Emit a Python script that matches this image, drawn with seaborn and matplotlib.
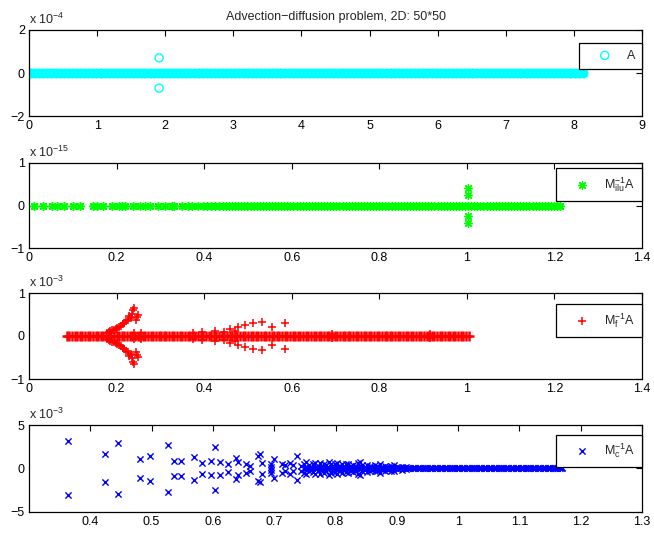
import numpy as np
import pandas as pd
import matplotlib
matplotlib.use("Agg")
import matplotlib.pyplot as plt
import seaborn as sns
from matplotlib.ticker import FuncFormatter

# ---- eigenvalues (imag parts in the unit shown on each axis) ----
# A  (x 10^-4)
a_band = [0.03, 0.09, 0.15, 0.21, 0.27, 0.33, 0.39, 0.45, 0.51, 0.57, 0.63, 0.69, 0.75,
          0.81, 0.87, 0.93, 0.99,
          1.05, 1.11, 1.17, 1.23, 1.29, 1.35, 1.41, 1.47, 1.53, 1.59, 1.65, 1.71, 1.77,
          1.83, 1.89, 1.95,
          2.01, 2.07, 2.13, 2.19, 2.25, 2.31, 2.37, 2.43, 2.49, 2.55, 2.61, 2.67, 2.73,
          2.79, 2.85, 2.91, 2.97,
          3.03, 3.09, 3.15, 3.21, 3.27, 3.33, 3.39, 3.45, 3.51, 3.57, 3.63, 3.69, 3.75,
          3.81, 3.87, 3.93, 3.99,
          4.05, 4.11, 4.17, 4.23, 4.29, 4.35, 4.41, 4.47, 4.53, 4.59, 4.65, 4.71, 4.77,
          4.83, 4.89, 4.95,
          5.01, 5.07, 5.13, 5.19, 5.25, 5.31, 5.37, 5.43, 5.49, 5.55, 5.61, 5.67, 5.73,
          5.79, 5.85, 5.91, 5.97,
          6.03, 6.09, 6.15, 6.21, 6.27, 6.33, 6.39, 6.45, 6.51, 6.57, 6.63, 6.69, 6.75,
          6.81, 6.87, 6.93, 6.99,
          7.05, 7.11, 7.17, 7.23, 7.29, 7.35, 7.41, 7.47, 7.53, 7.59, 7.65, 7.71, 7.77,
          7.83, 7.89, 7.95,
          8.01, 8.07, 8.13]
a_pair_re = [1.91]
a_pair_im = [0.70]

# M_ilu^-1 A  (x 10^-15)
ilu_band = [0.012, 0.033, 0.052, 0.063, 0.081, 0.101, 0.116, 0.147, 0.156, 0.170, 0.190,
            0.205, 0.212, 0.219, 0.238, 0.253, 0.265, 0.276, 0.295, 0.310, 0.326, 0.332,
            0.349, 0.362, 0.372, 0.387, 0.397, 0.406, 0.416, 0.425, 0.435, 0.444,
            0.450, 0.457, 0.464, 0.471, 0.478, 0.485, 0.492, 0.499, 0.506, 0.513, 0.520,
            0.527, 0.534, 0.541, 0.548, 0.555, 0.562, 0.569, 0.576, 0.583, 0.590, 0.597,
            0.604, 0.611, 0.618, 0.625, 0.632, 0.639, 0.646, 0.653, 0.660, 0.667, 0.674,
            0.681, 0.688, 0.695, 0.702, 0.709, 0.716, 0.723, 0.730, 0.737, 0.744, 0.751,
            0.758, 0.765, 0.772, 0.779, 0.786, 0.793, 0.800, 0.807, 0.814, 0.821, 0.828,
            0.835, 0.842, 0.849, 0.856, 0.863, 0.870, 0.877, 0.884, 0.891, 0.898, 0.905,
            0.912, 0.919, 0.926, 0.933, 0.940, 0.947, 0.954, 0.961, 0.968, 0.975, 0.982,
            0.989, 0.996, 1.003, 1.010, 1.017, 1.024, 1.031, 1.038, 1.045, 1.052, 1.059,
            1.066, 1.073, 1.080, 1.087, 1.094, 1.101, 1.108, 1.115, 1.122, 1.129, 1.136,
            1.143, 1.150, 1.157, 1.164, 1.171, 1.178, 1.185, 1.192, 1.199, 1.206, 1.212]
ilu_pair_re = [1.003, 1.003]
ilu_pair_im = [0.24, 0.42]

# M_f^-1 A  (x 10^-3)
f_band = [0.086, 0.092, 0.098, 0.104, 0.110, 0.116, 0.122, 0.128, 0.134, 0.140, 0.146,
          0.152, 0.158, 0.164, 0.170, 0.176, 0.182, 0.188, 0.194, 0.200, 0.206, 0.212,
          0.218, 0.224, 0.230, 0.236, 0.242, 0.248, 0.254, 0.260, 0.266, 0.272, 0.278,
          0.284, 0.290, 0.296, 0.302, 0.308, 0.314, 0.320, 0.326, 0.332, 0.338, 0.344,
          0.350, 0.356, 0.362, 0.368, 0.374, 0.380, 0.386, 0.392, 0.398, 0.404, 0.410,
          0.416, 0.422, 0.428, 0.434, 0.440, 0.446, 0.452, 0.458, 0.464, 0.470, 0.476,
          0.482, 0.488, 0.494, 0.500, 0.506, 0.512, 0.518, 0.524, 0.530, 0.536, 0.542,
          0.548, 0.554, 0.560, 0.566, 0.572, 0.578, 0.584, 0.590, 0.596, 0.602, 0.608,
          0.614, 0.620, 0.626, 0.632, 0.638, 0.644, 0.650, 0.656, 0.662, 0.668, 0.674,
          0.680, 0.686, 0.692, 0.698, 0.704, 0.710, 0.716, 0.722, 0.728, 0.734, 0.740,
          0.746, 0.752, 0.758, 0.764, 0.770, 0.776, 0.782, 0.788, 0.794, 0.800, 0.806,
          0.812, 0.818, 0.824, 0.830, 0.836, 0.842, 0.848, 0.854, 0.860, 0.866, 0.872,
          0.878, 0.884, 0.890, 0.896, 0.902, 0.908, 0.914, 0.920, 0.926, 0.932, 0.938,
          0.944, 0.950, 0.956, 0.962, 0.968, 0.974, 0.980, 0.986, 0.992, 0.998, 1.004]
f_pair_re = [0.177, 0.182, 0.186, 0.190, 0.194, 0.198, 0.202, 0.206, 0.210, 0.214, 0.218,
             0.222, 0.226, 0.229, 0.233, 0.236, 0.238, 0.240, 0.244, 0.246, 0.250, 0.240,
             0.255, 0.375, 0.394, 0.425, 0.445, 0.459, 0.470, 0.478, 0.493, 0.511, 0.531,
             0.556, 0.585, 0.691, 0.916]
f_pair_im = [0.06, 0.09, 0.11, 0.13, 0.15, 0.17, 0.19, 0.21, 0.24, 0.27, 0.30,
             0.34, 0.38, 0.46, 0.42, 0.52, 0.60, 0.66, 0.38, 0.45, 0.48, 0.08,
             0.07, 0.07, 0.10, 0.12, 0.10, 0.16, 0.12, 0.21, 0.26, 0.31, 0.33,
             0.22, 0.30, 0.05, 0.05]

# M_c^-1 A  (x 10^-3)
c_band = [0.750, 0.754, 0.758, 0.762, 0.766, 0.770, 0.774, 0.778, 0.782, 0.786,
          0.790, 0.794, 0.798, 0.802, 0.806, 0.810, 0.814, 0.818, 0.822, 0.826,
          0.830, 0.834, 0.838, 0.842, 0.846, 0.850, 0.854, 0.858, 0.862, 0.866,
          0.870, 0.874, 0.878, 0.882, 0.886, 0.890, 0.894, 0.898, 0.902, 0.906,
          0.910, 0.914, 0.918, 0.922, 0.926, 0.930, 0.934, 0.938, 0.942, 0.946,
          0.950, 0.954, 0.958, 0.962, 0.966, 0.970, 0.974, 0.978, 0.982, 0.986,
          0.990, 0.994, 0.998, 1.002, 1.006, 1.010, 1.014, 1.018, 1.022, 1.026,
          1.030, 1.034, 1.038, 1.042, 1.046, 1.050, 1.054, 1.058, 1.062, 1.066,
          1.070, 1.074, 1.078, 1.082, 1.086, 1.090, 1.094, 1.098, 1.102, 1.106,
          1.110, 1.114, 1.118, 1.122, 1.126, 1.130, 1.134, 1.138, 1.142, 1.146,
          1.150, 1.154, 1.158, 1.162, 1.166, 1.170]
c_pair_re = [0.364, 0.424, 0.445, 0.481, 0.498, 0.527, 0.536, 0.548, 0.569, 0.582, 0.597,
             0.603, 0.612, 0.624, 0.638, 0.641, 0.654, 0.661, 0.674, 0.677, 0.680, 0.694,
             0.694, 0.700, 0.712, 0.718, 0.726, 0.730, 0.738, 0.744, 0.748, 0.752, 0.756,
             0.760, 0.763, 0.767, 0.771, 0.774, 0.778, 0.781, 0.785, 0.789, 0.792, 0.795,
             0.799, 0.803, 0.806, 0.810, 0.814, 0.817, 0.821, 0.825, 0.829, 0.833, 0.837,
             0.840, 0.844, 0.848, 0.852, 0.856, 0.860, 0.864, 0.868, 0.872, 0.876, 0.880,
             0.885, 0.890, 0.896, 0.902, 0.908, 0.915]
c_pair_im = [3.10, 1.62, 2.94, 1.10, 1.45, 2.68, 0.85, 0.90, 1.30, 0.60, 0.80,
             2.45, 0.75, 0.45, 1.20, 0.75, 0.55, 0.25, 1.45, 1.60, 0.60, 0.20,
             0.55, 1.10, 0.50, 0.35, 0.65, 0.35, 1.38, 0.25, 0.55, 0.70, 0.35,
             0.15, 0.45, 0.60, 0.30, 0.65, 0.20, 0.50, 0.35, 0.75, 0.55, 0.25,
             0.45, 0.60, 0.30, 0.50, 0.20, 0.45, 0.55, 0.30, 0.40, 0.25, 0.60,
             0.75, 0.35, 0.20, 0.40, 0.30, 0.15, 0.35, 0.25, 0.50, 0.20, 0.30,
             0.15, 0.25, 0.35, 0.10, 0.20, 0.10]

title = "Advection\u2212diffusion problem, 2D: 50*50"


def eigs(band, pair_re, pair_im):
    # real eigenvalues on the axis, complex ones as conjugate pairs
    re = list(band) + list(pair_re) + list(pair_re)
    im = [0.0] * len(band) + list(pair_im) + [-v for v in pair_im]
    return pd.DataFrame({"re": re, "im": im})


sns.set_style("white")
plt.rcParams["font.family"] = ["Liberation Sans", "DejaVu Sans"]
plt.rcParams["mathtext.default"] = "regular"
plt.rcParams["font.size"] = 9

fig = plt.figure(figsize=(6.54, 5.33), dpi=100)
W, H = 654, 533
left, right = 29, 642
tops = [29.7, 162.7, 293.0, 425.0]
bots = [116.3, 248.3, 379.0, 511.7]
axes = [fig.add_axes([left / W, 1 - b / H, (right - left) / W, (b - t) / H])
        for t, b in zip(tops, bots)]

fmt = FuncFormatter(lambda v, _: f"{v:g}".replace("-", "\u2212"))


def style(ax, xlim, xticks, ylim, yticks, exponent, leg_top):
    ax.set_xlim(xlim)
    ax.set_xticks(xticks)
    ax.set_ylim(ylim)
    ax.set_yticks(yticks)
    ax.xaxis.set_major_formatter(fmt)
    ax.yaxis.set_major_formatter(fmt)
    ax.set_xlabel("")
    ax.set_ylabel("")
    ax.tick_params(direction="in", top=True, right=True, length=4, width=0.8,
                   labelsize=9, pad=3, colors="black")
    for s in ax.spines.values():
        s.set_visible(True)
        s.set_linewidth(0.9)
        s.set_color("black")
    ax.text(0, 1.03, f"x 10$^{{{exponent}}}$", transform=ax.transAxes,
            ha="left", va="bottom", fontsize=9)
    leg = ax.legend(loc="upper right", bbox_to_anchor=(1.0, leg_top), borderaxespad=0,
                    fancybox=False, framealpha=1, edgecolor="black", borderpad=0.56,
                    handlelength=3.0, handletextpad=0.25, fontsize=9, scatterpoints=1)
    leg.get_frame().set_linewidth(0.9)


# panel 1: A
ax = axes[0]
sns.scatterplot(data=eigs(a_band, [], []), x="re", y="im", ax=ax, marker="o", s=34,
                facecolor="cyan", edgecolor="cyan", linewidth=1.4)
sns.scatterplot(data=eigs([], a_pair_re, a_pair_im), x="re", y="im", ax=ax, marker="o",
                s=34, facecolor="none", edgecolor="cyan", linewidth=1.0, label="A")
style(ax, (0, 9), range(0, 10), (-2, 2), [-2, 0, 2], "-4", 0.85)
ax.set_title(title, fontsize=9, pad=7)

# panel 2: M_ilu^-1 A
ax = axes[1]
star = (8, 2, 0)
sns.scatterplot(data=eigs(ilu_band, [], []), x="re", y="im", ax=ax,
                marker=star, s=28, color=(0, 1, 0), linewidth=1.2)
sns.scatterplot(data=eigs([], ilu_pair_re, ilu_pair_im), x="re", y="im", ax=ax,
                marker=star, s=28, color=(0, 1, 0), linewidth=1.0,
                label=r"$M_{ilu}^{-1}A$")
style(ax, (0, 1.4), [0, 0.2, 0.4, 0.6, 0.8, 1.0, 1.2, 1.4], (-1, 1), [-1, 0, 1],
      "-15", 0.94)

# panel 3: M_f^-1 A
ax = axes[2]
sns.scatterplot(data=eigs(f_band, [], []), x="re", y="im", ax=ax,
                marker="+", s=48, color=(1, 0, 0), linewidth=1.8)
sns.scatterplot(data=eigs([], f_pair_re, f_pair_im), x="re", y="im", ax=ax,
                marker="+", s=40, color=(1, 0, 0), linewidth=1.1,
                label=r"$M_{f}^{-1}A$")
style(ax, (0, 1.4), [0, 0.2, 0.4, 0.6, 0.8, 1.0, 1.2, 1.4], (-1, 1), [-1, 0, 1],
      "-3", 0.87)

# panel 4: M_c^-1 A
ax = axes[3]
sns.scatterplot(data=eigs(c_band, [], []), x="re", y="im", ax=ax,
                marker="x", s=20, color=(0, 0, 1), linewidth=1.4)
sns.scatterplot(data=eigs([], c_pair_re, c_pair_im), x="re", y="im", ax=ax,
                marker="x", s=20, color=(0, 0, 1), linewidth=1.0,
                label=r"$M_{c}^{-1}A$")
style(ax, (0.3, 1.3), [0.4, 0.5, 0.6, 0.7, 0.8, 0.9, 1.0, 1.1, 1.2, 1.3], (-5, 5),
      [-5, 0, 5], "-3", 0.89)

fig.savefig("out.png", dpi=100)
